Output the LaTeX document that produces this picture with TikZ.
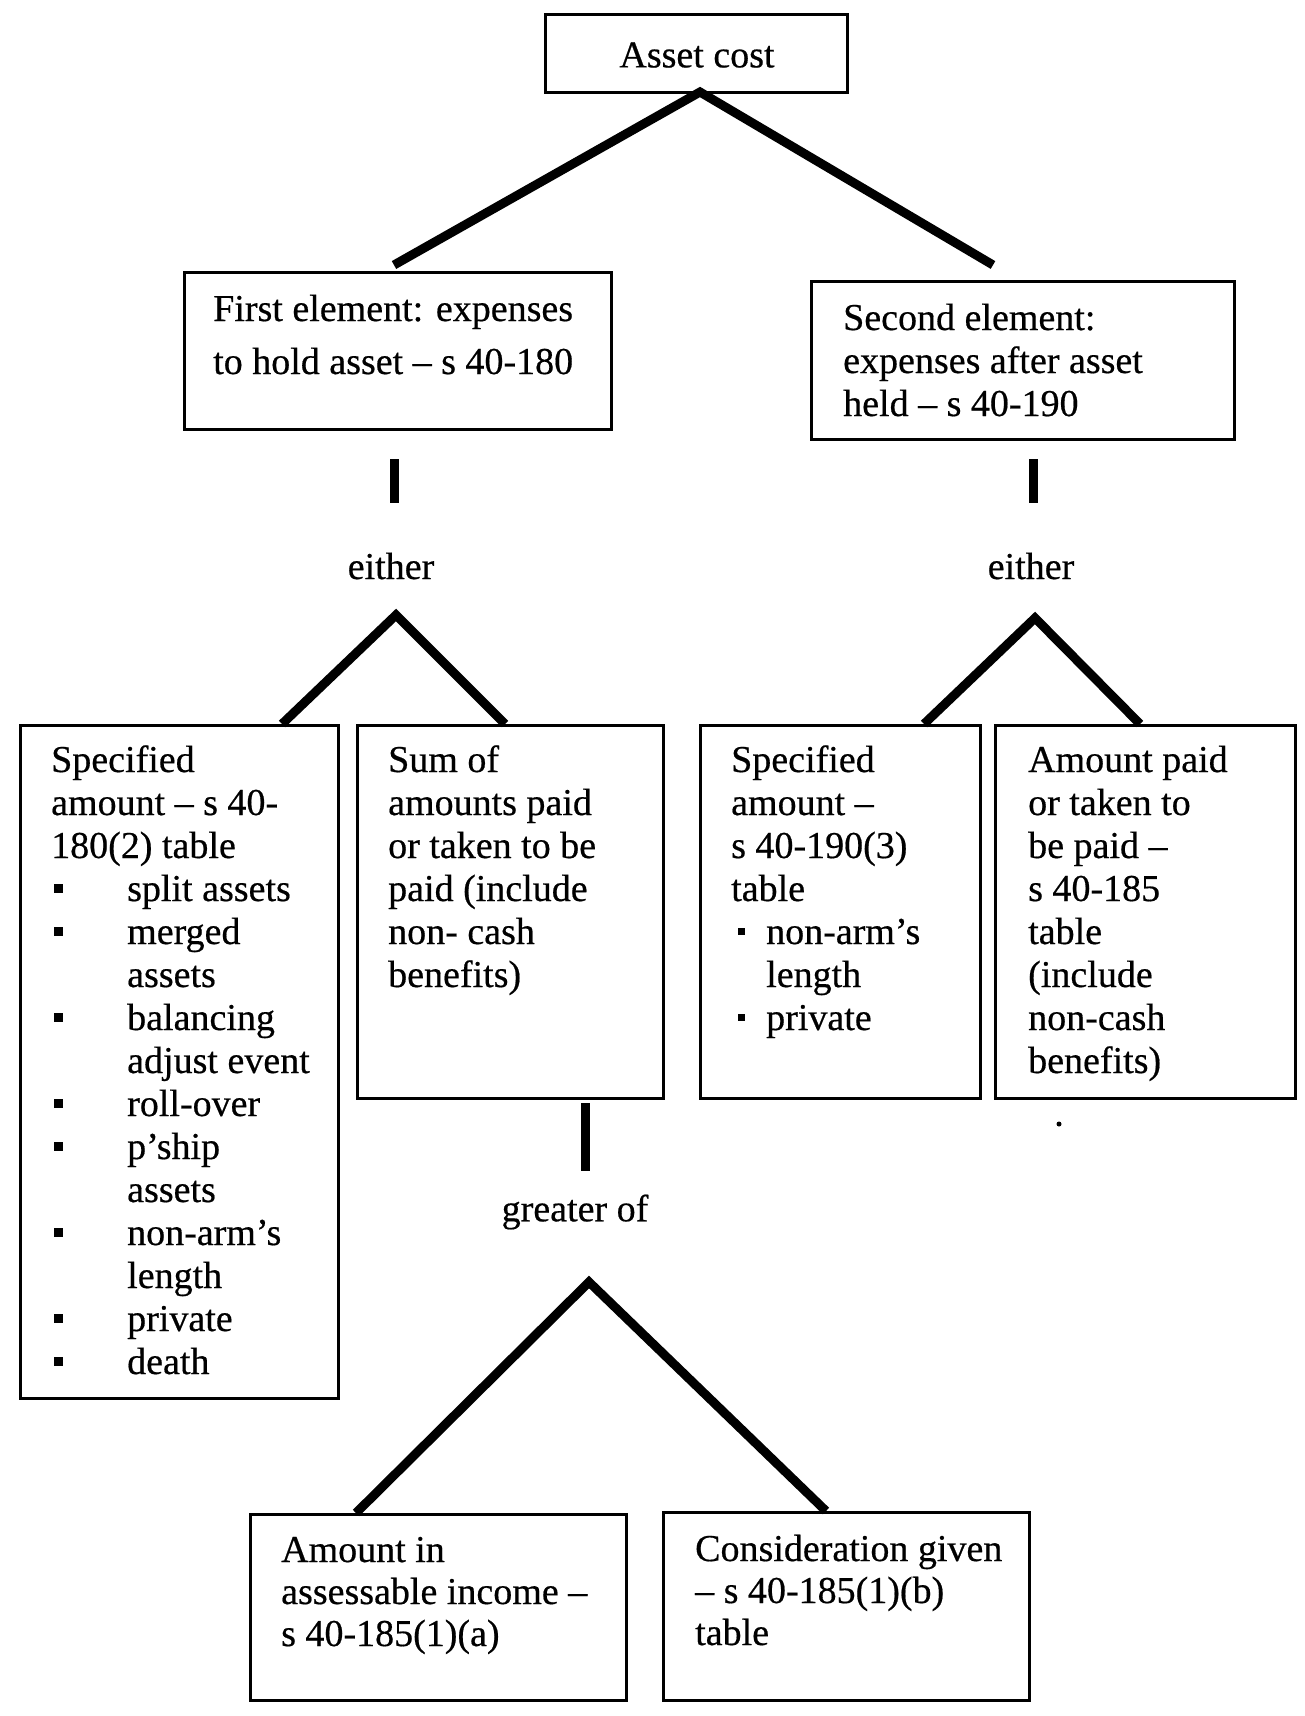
\documentclass[tikz,border=0pt]{standalone}
\usepackage{fontspec}
\setmainfont{Liberation Serif}[FakeBold=0.5]
\newcommand\sqbul{\raisebox{8pt}{\rule{9pt}{9pt}}}
\newcommand\sqbs{\raisebox{9pt}{\rule{7pt}{7pt}}}
\begin{document}
\begin{tikzpicture}[x=1pt,y=-1pt,
  box/.style={draw,line width=3pt,inner sep=0pt,anchor=north west},
  txt/.style={anchor=base west,inner sep=0pt,font=\fontsize{38}{43}\selectfont},
  lbl/.style={inner sep=0pt,font=\fontsize{38}{43}\selectfont},
  conn/.style={line width=9pt}]
\useasboundingbox[fill=white] (0,0) rectangle (1304,1716);
% boxes
\node[box,minimum width=302pt,minimum height=78pt] (ac) at (544,13) {};
\node[lbl] (acT) at (697,55) {Asset cost};
\node[box,minimum width=427pt,minimum height=157pt] (fe) at (183,271) {};
\node[box,minimum width=423pt,minimum height=158pt] (se) at (810,280) {};
\node[box,minimum width=318pt,minimum height=673pt] (bA) at (19,724) {};
\node[box,minimum width=306pt,minimum height=373pt] (bB) at (356,724) {};
\node[box,minimum width=280pt,minimum height=373pt] (bC) at (699,724) {};
\node[box,minimum width=300pt,minimum height=373pt] (bD) at (994,724) {};
\node[box,minimum width=376pt,minimum height=186pt] (bE) at (249,1513) {};
\node[box,minimum width=366pt,minimum height=188pt] (bF) at (662,1511) {};
% texts
\node[txt,font=\fontsize{38}{53}\selectfont] (feT) at (213,321) {\begin{tabular}[t]{@{}l@{}}First element: expenses\\to hold asset -- s 40-180\end{tabular}};
\node[txt] (seT) at (843,330) {\begin{tabular}[t]{@{}l@{}}Second element:\\expenses after asset\\held -- s 40-190\end{tabular}};
\node[txt] (aT) at (51,772) {\begin{tabular}[t]{@{}l@{}}Specified\\amount -- s 40-\\180(2) table\\
\makebox[76pt][l]{\hspace{3pt}\sqbul}split assets\\
\makebox[76pt][l]{\hspace{3pt}\sqbul}merged\\
\hspace*{76pt}assets\\
\makebox[76pt][l]{\hspace{3pt}\sqbul}balancing\\
\hspace*{76pt}adjust event\\
\makebox[76pt][l]{\hspace{3pt}\sqbul}roll-over\\
\makebox[76pt][l]{\hspace{3pt}\sqbul}p’ship\\
\hspace*{76pt}assets\\
\makebox[76pt][l]{\hspace{3pt}\sqbul}non-arm’s\\
\hspace*{76pt}length\\
\makebox[76pt][l]{\hspace{3pt}\sqbul}private\\
\makebox[76pt][l]{\hspace{3pt}\sqbul}death\end{tabular}};
\node[txt] (bT) at (388,772) {\begin{tabular}[t]{@{}l@{}}Sum of\\amounts paid\\or taken to be\\paid (include\\non- cash\\benefits)\end{tabular}};
\node[txt] (cT) at (731,772) {\begin{tabular}[t]{@{}l@{}}Specified\\amount --\\s 40-190(3)\\table\\
\makebox[35pt][l]{\hspace{7pt}\sqbs}non-arm’s\\
\hspace*{35pt}length\\
\makebox[35pt][l]{\hspace{7pt}\sqbs}private\end{tabular}};
\node[txt] (dT) at (1028,772) {\begin{tabular}[t]{@{}l@{}}Amount paid\\or taken to\\be paid --\\s 40-185\\table\\(include\\non-cash\\benefits)\end{tabular}};
\node[txt,font=\fontsize{38}{42}\selectfont] (eT) at (281,1562) {\begin{tabular}[t]{@{}l@{}}Amount in\\assessable income --\\s 40-185(1)(a)\end{tabular}};
\node[txt,font=\fontsize{38}{42}\selectfont] (fT) at (695,1561) {\begin{tabular}[t]{@{}l@{}}Consideration given\\-- s 40-185(1)(b)\\table\end{tabular}};
% labels
\node[lbl] (either1) at (391,566) {either};
\node[lbl] (either2) at (1031,566) {either};
\node[lbl] (greater) at (575,1212) {greater of};
% connector coordinates
\coordinate (ap1) at (700,92);
\coordinate (l1) at (394,265);
\coordinate (r1) at (993,265);
\coordinate (v1a) at (394,459); \coordinate (v1b) at (394,503);
\coordinate (v2a) at (1033,459); \coordinate (v2b) at (1033,503);
\coordinate (ap2) at (396,615); \coordinate (a2l) at (282,724); \coordinate (a2r) at (505,724);
\coordinate (ap3) at (1035,618); \coordinate (a3l) at (924,724); \coordinate (a3r) at (1140,724);
\coordinate (v3a) at (585,1103); \coordinate (v3b) at (585,1171);
\coordinate (ap4) at (589,1282); \coordinate (a4l) at (356,1513); \coordinate (a4r) at (826,1511);
\coordinate (dot) at (1059,1124);
% connectors
\draw[conn] (l1) -- (ap1) -- (r1);
\draw[conn] (v1a) -- (v1b);
\draw[conn] (v2a) -- (v2b);
\draw[conn] (a2l) -- (ap2) -- (a2r);
\draw[conn] (a3l) -- (ap3) -- (a3r);
\draw[conn] (v3a) -- (v3b);
\draw[conn] (a4l) -- (ap4) -- (a4r);
\fill (dot) circle (2.5pt);
\end{tikzpicture}
\end{document}
